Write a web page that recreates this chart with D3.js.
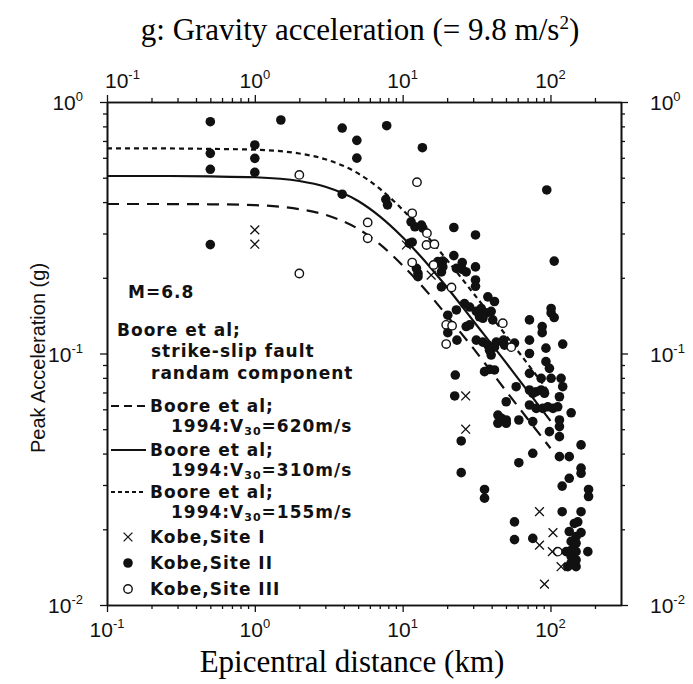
<!DOCTYPE html>
<html lang="en">
<head>
<meta charset="utf-8">
<title>Peak acceleration vs epicentral distance</title>
<script src="https://cdn.jsdelivr.net/npm/d3@7"></script>
<style>
  body { margin: 0; background: #fff; }
  .lg { font-family: "DejaVu Sans", sans-serif; font-weight: bold; font-size: 17px; letter-spacing: 1px; fill: #111; }
  .tk { font-family: "Liberation Sans", Arial, sans-serif; font-size: 21px; fill: #111; }
</style>
</head>
<body>
<svg id="chart" width="693" height="684"></svg>
<script>
// Boore et al. (1994) curves, distance in km, PGA in g
let curveDist = [0.1, 0.2, 0.5, 1, 2, 3, 5, 7, 10, 15, 20, 30, 50, 70, 100];
let boore620 = [0.393, 0.393, 0.392, 0.389, 0.375, 0.356, 0.313, 0.272, 0.224, 0.173, 0.141, 0.105, 0.071, 0.055, 0.042];
let boore310 = [0.508, 0.508, 0.506, 0.502, 0.485, 0.460, 0.404, 0.351, 0.290, 0.224, 0.183, 0.135, 0.092, 0.071, 0.054];
let boore155 = [0.654, 0.654, 0.651, 0.646, 0.624, 0.592, 0.520, 0.452, 0.373, 0.288, 0.235, 0.174, 0.118, 0.091, 0.069];

// Kobe records
let site1Dist = [1.0, 1.0, 10.6, 15.6, 26.7, 26.7, 84.3, 104, 84.3, 103, 118, 91.1];
let site1Pga  = [0.310, 0.272, 0.270, 0.205, 0.0678, 0.0500, 0.0235, 0.0194, 0.0173, 0.0163, 0.0142, 0.0121];

let site2Dist = [0.5, 0.5, 0.5, 0.5, 1.0, 1.0, 1.0, 1.5, 3.9, 3.9, 4.9, 4.9, 7.8, 7.7, 7.9, 13.6,
  11.4, 12.1, 13.4, 13.7, 22.2, 31.1, 11.1, 11.6, 12.4, 12.7, 12.7, 22.2, 18.7, 18.7, 18.3, 17.3,
  25.3, 25.3, 23.1, 26.9, 31.1, 31.1, 31.1, 18.3, 37.7, 41.8, 94.4, 106,
  26.2, 28.4, 31.5, 34.0, 36.8, 33.1, 34.9, 39.7, 20.2, 23.1, 40.7, 20.2, 26.9, 28.4,
  23.3, 31.5, 34.9, 37.7, 38.7, 41.8, 43.0, 48.1, 48.9, 57.1, 72.1, 72.1, 72.1, 87.9, 87.9,
  101, 106, 101, 93.2, 93.2, 98.4, 121, 22.7, 35.8, 38.7, 41.8, 72.1, 86.5, 101, 118, 39.7,
  121, 58.6, 22.5, 72.1, 75.9, 80.1, 86.5, 91.1, 115, 50.2, 72.1, 80.1, 88.7, 95.9, 104, 112, 138,
  44.1, 46.5, 50.2, 44.1, 50.2, 61.1, 75.9, 115, 115, 98.4, 115, 24.9, 161, 75.9, 115, 134,
  61.1, 161, 161, 24.9, 134, 120, 181, 181, 35.8, 35.8, 120, 161, 153, 145, 57.1, 57.1, 75.9,
  134, 161, 149, 138, 149, 128, 138, 149, 179, 138, 149, 131, 149, 138];
let site2Pga = [0.835, 0.625, 0.540, 0.271, 0.675, 0.597, 0.525, 0.848, 0.788, 0.430, 0.704, 0.598, 0.805, 0.410, 0.390, 0.658,
  0.334, 0.319, 0.324, 0.315, 0.317, 0.296, 0.274, 0.277, 0.218, 0.208, 0.202, 0.245, 0.233, 0.221, 0.211, 0.232,
  0.230, 0.216, 0.218, 0.211, 0.221, 0.196, 0.185, 0.184, 0.168, 0.161, 0.447, 0.233,
  0.158, 0.153, 0.147, 0.151, 0.145, 0.140, 0.138, 0.147, 0.142, 0.149, 0.136, 0.121, 0.128, 0.130,
  0.113, 0.113, 0.111, 0.108, 0.103, 0.106, 0.111, 0.113, 0.108, 0.110, 0.136, 0.113, 0.100, 0.128, 0.121,
  0.151, 0.139, 0.145, 0.105, 0.0928, 0.0873, 0.109, 0.0821, 0.0847, 0.0865, 0.0860, 0.0834, 0.0797, 0.0797, 0.0797, 0.0986,
  0.0738, 0.0738, 0.0678, 0.0716, 0.0695, 0.0705, 0.0716, 0.0695, 0.0673, 0.0643, 0.0624, 0.0605, 0.0605, 0.0614, 0.0605, 0.0614, 0.0581,
  0.0569, 0.0553, 0.0544, 0.0528, 0.0528, 0.0544, 0.0536, 0.0544, 0.0512, 0.0489, 0.0467, 0.0449, 0.0433, 0.0401, 0.0389, 0.0389,
  0.0368, 0.0350, 0.0334, 0.0336, 0.0319, 0.0297, 0.0288, 0.0270, 0.0288, 0.0266, 0.0235, 0.0235, 0.0214, 0.0211, 0.0214, 0.0182, 0.0184,
  0.0196, 0.0194, 0.0187, 0.0179, 0.0176, 0.0163, 0.0165, 0.0163, 0.0163, 0.0156, 0.0151, 0.0142, 0.0142, 0.0147];

let site3Dist = [2.0, 2.0, 5.8, 5.8, 12.5, 11.6, 14.6, 14.5, 16.4, 11.6, 16.2, 21.4, 19.7, 21.6, 19.7, 47.6, 54.3, 112];
let site3Pga  = [0.513, 0.208, 0.332, 0.287, 0.480, 0.361, 0.301, 0.270, 0.272, 0.230, 0.225, 0.183, 0.130, 0.129, 0.109, 0.132, 0.106, 0.0163];

// axis tick labels (powers of ten)
let xMajorExp = [-1, 0, 1, 2];
let yMajorExp = [-2, -1, 0];

const svg = d3.select('#chart');
const pLeft = 107, pRight = 621, pTop = 102, pBottom = 605;

const x = d3.scaleLog().domain([0.1, 300]).range([pLeft, pRight]);
const y = d3.scaleLog().domain([0.01, 1]).range([pBottom, pTop]);

// minor ticks 2..9 per decade, inside the domain
function minorTicks(scale) {
  let [a, b] = scale.domain(), out = [];
  for (let e = Math.floor(Math.log10(a)); e <= Math.ceil(Math.log10(b)); e++)
    for (let k = 2; k <= 9; k++) {
      let v = k * Math.pow(10, e);
      if (v > a && v < b) out.push(v);
    }
  return out;
}
const xMinor = minorTicks(x), yMinor = minorTicks(y);
const xMajor = xMajorExp.map(e => Math.pow(10, e));
const yMajor = yMajorExp.map(e => Math.pow(10, e));

function drawAxis(axisFn, scale, tx, ty) {
  const g = svg.append('g').attr('transform', `translate(${tx},${ty})`);
  g.append('g').call(axisFn(scale).tickValues(scale === x ? xMinor : yMinor).tickSize(4).tickSizeOuter(0).tickFormat(''));
  g.append('g').call(axisFn(scale).tickValues(scale === x ? xMajor : yMajor).tickSize(7).tickSizeOuter(0).tickFormat(''));
  g.selectAll('path.domain').attr('stroke', '#111').attr('stroke-width', 1.6);
  g.selectAll('.tick line').attr('stroke', '#111').attr('stroke-width', 1.3);
}
drawAxis(d3.axisBottom, x, 0, pBottom);
drawAxis(d3.axisTop, x, 0, pTop);
drawAxis(d3.axisLeft, y, pLeft, 0);
drawAxis(d3.axisRight, y, pRight, 0);

function powLabel(px, py, exp, anchor) {
  const t = svg.append('text').attr('class', 'tk').attr('x', px).attr('y', py).attr('text-anchor', anchor);
  t.append('tspan').text('10');
  t.append('tspan').attr('dy', -9).attr('font-size', 13).text(exp);
}
xMajorExp.forEach((e, i) => {
  powLabel(x(xMajor[i]), 637, e, 'middle');
  if (i === 0) powLabel(x(xMajor[i]) - 2, 88, e, 'start');
  else powLabel(x(xMajor[i]), 88, e, 'middle');
});
yMajorExp.forEach((e, i) => {
  powLabel(pLeft - 24, y(yMajor[i]) + 8, e, 'end');
  powLabel(pRight + 29, y(yMajor[i]) + 8, e, 'start');
});

// titles
const serif = '"Liberation Serif", "Times New Roman", serif';
const title = svg.append('text').attr('x', 360).attr('y', 40).attr('text-anchor', 'middle')
  .attr('font-family', serif).attr('font-size', 31).attr('fill', '#000');
title.append('tspan').text('g: Gravity acceleration (= 9.8 m/s');
title.append('tspan').attr('dy', -11).attr('font-size', 19).text('2');
title.append('tspan').attr('dy', 11).text(')');

svg.append('text').attr('x', 352).attr('y', 672).attr('text-anchor', 'middle')
  .attr('font-family', serif).attr('font-size', 31).attr('fill', '#000')
  .text('Epicentral distance (km)');

svg.append('text').attr('transform', 'translate(45,358) rotate(-90)').attr('text-anchor', 'middle')
  .attr('font-family', '"Liberation Sans", Arial, sans-serif').attr('font-size', 20).attr('fill', '#111')
  .text('Peak Acceleration (g)');

// curves
const line = d3.line().x(d => x(d[0])).y(d => y(d[1])).curve(d3.curveMonotoneX);
const curves = [
  { vals: boore620, dash: '12,8' },
  { vals: boore310, dash: null },
  { vals: boore155, dash: '5,4' }
];
curves.forEach(c => {
  svg.append('path').datum(curveDist.map((d, i) => [d, c.vals[i]]))
    .attr('d', line).attr('fill', 'none').attr('stroke', '#111').attr('stroke-width', 2.2)
    .attr('stroke-dasharray', c.dash);
});

// markers
const dot = 4.8, ring = 4.2;
svg.append('g').selectAll('circle').data(site2Dist.map((d, i) => [d, site2Pga[i]])).join('circle')
  .attr('cx', d => x(d[0])).attr('cy', d => y(d[1])).attr('r', dot).attr('fill', '#111');
svg.append('g').selectAll('circle').data(site3Dist.map((d, i) => [d, site3Pga[i]])).join('circle')
  .attr('cx', d => x(d[0])).attr('cy', d => y(d[1])).attr('r', ring)
  .attr('fill', '#fff').attr('stroke', '#111').attr('stroke-width', 1.4);
const cross = d3.symbol().type(d3.symbolX).size(52);
svg.append('g').selectAll('path').data(site1Dist.map((d, i) => [d, site1Pga[i]])).join('path')
  .attr('transform', d => `translate(${x(d[0])},${y(d[1])})`).attr('d', cross)
  .attr('fill', 'none').attr('stroke', '#111').attr('stroke-width', 1.3);

// legend block
const lg = svg.append('g');
function lgText(px, py, str) {
  return lg.append('text').attr('class', 'lg').attr('x', px).attr('y', py).text(str);
}
function lgV30(px, py, vel) {
  const t = lg.append('text').attr('class', 'lg').attr('x', px).attr('y', py);
  t.append('tspan').text('1994:V');
  t.append('tspan').attr('dy', 3).attr('font-size', 11).text('30');
  t.append('tspan').attr('dy', -3).text('=' + vel + 'm/s');
}
lgText(128, 298, 'M=6.8');
lgText(117, 336, 'Boore et al;');
lgText(151, 357, 'strike-slip fault');
lgText(151, 379, 'randam component');

const lgRows = [
  { y: 412, dash: '8,5', vel: 620 },
  { y: 456, dash: null, vel: 310 },
  { y: 498, dash: '4,3', vel: 155 }
];
lgRows.forEach(r => {
  lg.append('line').attr('x1', 111).attr('x2', 146).attr('y1', r.y - 6).attr('y2', r.y - 6)
    .attr('stroke', '#111').attr('stroke-width', 2).attr('stroke-dasharray', r.dash);
  lgText(150, r.y, 'Boore et al;');
  lgV30(171, r.y + 20, r.vel);
});
lg.append('path').attr('transform', 'translate(128,537)').attr('d', cross)
  .attr('fill', 'none').attr('stroke', '#111').attr('stroke-width', 1.3);
lgText(150, 543, 'Kobe,Site I');
lg.append('circle').attr('cx', 128).attr('cy', 563).attr('r', dot).attr('fill', '#111');
lgText(150, 569, 'Kobe,Site II');
lg.append('circle').attr('cx', 128).attr('cy', 589).attr('r', ring)
  .attr('fill', '#fff').attr('stroke', '#111').attr('stroke-width', 1.4);
lgText(150, 595, 'Kobe,Site III');
</script>
</body>
</html>
